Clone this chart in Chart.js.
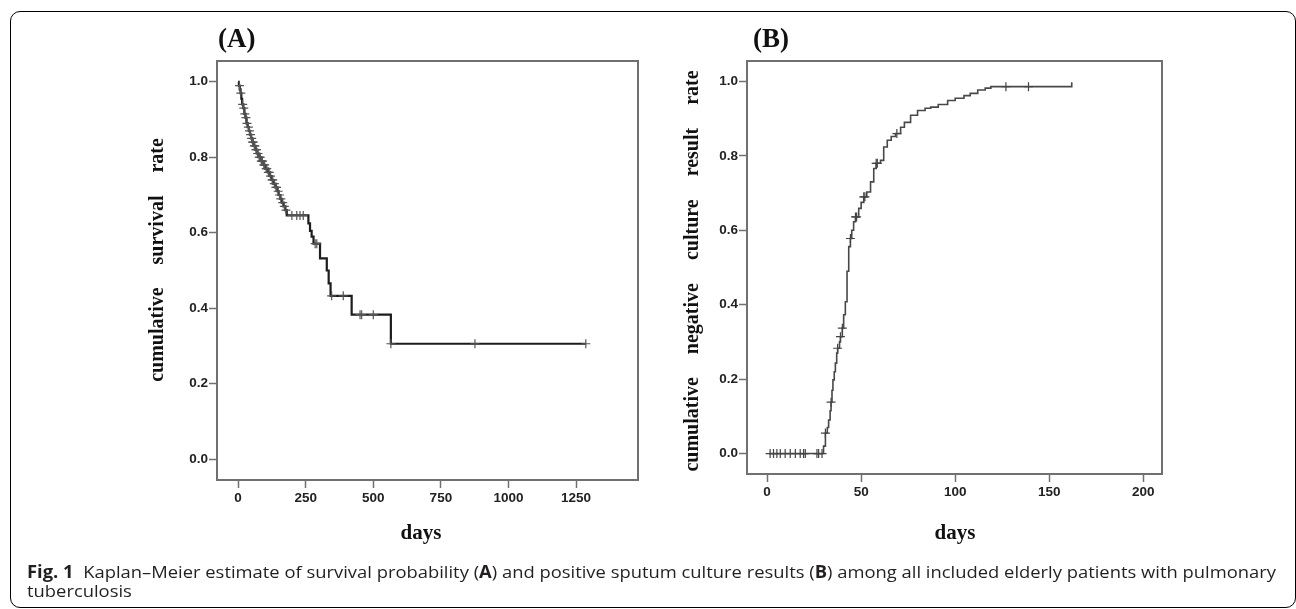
<!DOCTYPE html>
<html>
<head>
<meta charset="utf-8">
<script src="https://cdn.jsdelivr.net/npm/chart.js@4.4.1/dist/chart.umd.min.js"></script>
<style>
  html, body { margin: 0; padding: 0; background: #fff; }
  #wrap { position: relative; width: 1296px; height: 609px; overflow: hidden; }
  #wrap canvas { position: absolute; left: 0; top: 0; }
  #frame { position: absolute; left: 10px; top: 11px; width: 1286px; height: 597px;
           box-sizing: border-box; border: 1px solid #000; border-radius: 10px; }
  .cap { position: absolute; left: 27px; font-family: "Open Sans", sans-serif; font-size: 17px;
         line-height: 19px; color: #231f20; white-space: nowrap; transform-origin: 0 0; }
</style>
</head>
<body>
<div id="wrap">
  <div id="frame"></div>
  <canvas id="chartA" width="1296" height="609"></canvas>
  <canvas id="chartB" width="1296" height="609"></canvas>
  <div class="cap" id="cap1" style="top:562px"><b>Fig. 1</b>&nbsp; Kaplan–Meier estimate of survival probability (<b>A</b>) and positive sputum culture results (<b>B</b>) among all included elderly patients with pulmonary</div>
  <div class="cap" id="cap2" style="top:581px">tuberculosis</div>
</div>
<script>
// (A) survival: event days and survival after each event (last point = end of follow-up)
const survDays = [0, 3, 6, 9, 12, 15, 19, 23, 27, 31, 36, 40, 44, 48, 52, 58, 64, 70, 76, 84,
  92, 100, 110, 118, 124, 130, 138, 145, 150, 156, 162, 168, 174, 180, 260, 266, 272, 279,
  303, 328, 335, 342, 420, 565, 1286];
const survRates = [1, 0.99, 0.98, 0.97, 0.955, 0.94, 0.93, 0.915, 0.905, 0.89, 0.88, 0.87, 0.86,
  0.85, 0.84, 0.83, 0.82, 0.81, 0.8, 0.79, 0.78, 0.77, 0.76, 0.75, 0.74, 0.73, 0.72, 0.71, 0.7,
  0.69, 0.68, 0.67, 0.66, 0.646, 0.625, 0.605, 0.59, 0.571, 0.532, 0.5, 0.466, 0.433, 0.383,
  0.306, 0.306];
const survCensored = [5, 10, 17, 21, 25, 29, 33, 38, 42, 46, 50, 54, 56, 60, 62, 66, 68, 72, 74,
  78, 80, 82, 86, 88, 90, 95, 98, 104, 106, 112, 115, 120, 126, 128, 134, 140, 142, 148, 153,
  158, 165, 171, 177, 199, 217, 229, 241, 285, 291, 346, 389, 451, 457, 500, 565, 876, 1286];
const survXTicks = [0, 250, 500, 750, 1000, 1250];

// (B) negative culture conversion
const cultDays = [1, 30, 31, 32, 32.7, 33.5, 34, 34.5, 35, 35.7, 36.3, 37, 37.5, 38.5, 39, 40,
  40.7, 41.6, 42.5, 43.4, 44.3, 45, 46, 47, 48.7, 50, 51.4, 53, 55, 56.7, 58, 60.3, 62, 63.9,
  66, 68.3, 71, 73, 76.3, 80, 84, 87, 91, 96, 100, 104.7, 108, 112, 116, 119, 162];
const cultRates = [0, 0.02, 0.055, 0.07, 0.09, 0.115, 0.138, 0.17, 0.198, 0.22, 0.243, 0.27,
  0.283, 0.3, 0.314, 0.337, 0.373, 0.408, 0.49, 0.556, 0.578, 0.6, 0.623, 0.636, 0.659, 0.675,
  0.69, 0.703, 0.73, 0.766, 0.78, 0.788, 0.824, 0.842, 0.852, 0.86, 0.877, 0.89, 0.909, 0.922,
  0.928, 0.931, 0.938, 0.949, 0.955, 0.962, 0.968, 0.977, 0.982, 0.986, 0.998];
const cultCensored = [1.6, 3.4, 5.2, 7, 9.6, 12.3, 15, 17.6, 19.4, 20.3, 26.5, 27.4, 29.2, 31,
  34, 37.5, 39, 40, 44.3, 47, 47.6, 51.4, 52, 58, 58.6, 69, 127, 139];
const cultXTicks = [0, 50, 100, 150, 200];

const yTicks = [0, 0.2, 0.4, 0.6, 0.8, 1.0];

// is the narrow font there?
function hasFont(name) {
  const c = document.createElement('canvas').getContext('2d');
  c.font = 'bold 15px monospace';
  const w0 = c.measureText('1250 0.8').width;
  c.font = 'bold 15px "' + name + '", monospace';
  return c.measureText('1250 0.8').width !== w0;
}
const narrow = hasFont('Liberation Sans Narrow');
const tickFont = narrow
  ? { family: '"Liberation Sans Narrow"', size: 15, weight: 'bold' }
  : { family: '"Liberation Sans", Arial, sans-serif', size: 13.5, weight: 'bold' };

function stepValue(days, rates, t) {
  let v = rates[0];
  for (let i = 0; i < days.length; i++) if (days[i] <= t) v = rates[i];
  return v;
}

const panelText = {
  id: 'panelText',
  afterDraw(chart, args, o) {
    const ctx = chart.ctx;
    const a = chart.chartArea;
    ctx.save();
    ctx.strokeStyle = '#707070';
    ctx.lineWidth = 2;
    ctx.strokeRect(a.left, a.top, a.right - a.left, a.bottom - a.top);
    ctx.fillStyle = '#111';
    ctx.textBaseline = 'alphabetic';
    ctx.font = 'bold 27px "Liberation Serif", serif';
    ctx.textAlign = 'left';
    ctx.fillText(o.label, o.labelX, o.labelY);
    ctx.font = 'bold 21px "Liberation Serif", serif';
    ctx.textAlign = 'center';
    ctx.fillText(o.xTitle, o.xTitleX, o.xTitleY);
    ctx.font = 'bold 20px "Liberation Serif", serif';
    ctx.textAlign = 'left';
    const words = o.yTitle.split(' ');
    const widths = words.map(w => ctx.measureText(w).width);
    const total = widths.reduce((s, w) => s + w, 0) + o.wordGap * (words.length - 1);
    ctx.translate(o.yTitleX, o.yTitleY);
    ctx.rotate(-Math.PI / 2);
    let u = -total / 2;
    words.forEach((w, i) => { ctx.fillText(w, u, 0); u += widths[i] + o.wordGap; });
    ctx.restore();
  }
};

function makeChart(id, cfg) {
  const pts = cfg.days.map((d, i) => ({ x: d, y: cfg.rates[i] }));
  const cens = cfg.censored.map(d => ({ x: d, y: stepValue(cfg.days, cfg.rates, d) }));
  return new Chart(document.getElementById(id), {
    type: 'scatter',
    data: {
      datasets: [
        { data: cens, showLine: false, pointStyle: 'cross', pointRadius: 4.5,
          pointBorderWidth: 1.2, pointBorderColor: cfg.markColor },
        { data: pts, showLine: true, stepped: true, pointRadius: 0,
          borderColor: cfg.lineColor, borderWidth: cfg.lineWidth }
      ]
    },
    options: {
      responsive: false,
      animation: false,
      layout: { padding: cfg.padding },
      plugins: { legend: { display: false }, tooltip: { enabled: false }, panelText: cfg.text },
      scales: {
        x: {
          type: 'linear', min: cfg.xMin, max: cfg.xMax,
          afterBuildTicks: s => { s.ticks = cfg.xTicks.map(v => ({ value: v })); },
          afterFit: s => { s.height = 40; },
          grid: { drawOnChartArea: false, tickLength: 8, tickColor: '#707070', tickWidth: 1.5 },
          border: { display: false },
          ticks: { color: '#222', font: tickFont, padding: 2, maxRotation: 0, autoSkip: false,
                   callback: v => String(v) }
        },
        y: {
          min: -0.055, max: 1.055,
          afterBuildTicks: s => { s.ticks = yTicks.map(v => ({ value: v })); },
          afterFit: s => { s.width = 40; },
          grid: { drawOnChartArea: false, tickLength: 8, tickColor: '#707070', tickWidth: 1.5 },
          border: { display: false },
          ticks: { color: '#222', font: tickFont, padding: 1, callback: v => v.toFixed(1) }
        }
      }
    },
    plugins: [panelText]
  });
}

makeChart('chartA', {
  days: survDays, rates: survRates, censored: survCensored, xTicks: survXTicks,
  xMin: -78, xMax: 1479, lineColor: '#1c1c1c', lineWidth: 2.2, markColor: '#555',
  padding: { left: 177, right: 658, top: 61, bottom: 89 },
  text: { label: '(A)', labelX: 218, labelY: 47, xTitle: 'days', xTitleX: 421, xTitleY: 539,
          yTitle: 'cumulative survival rate', yTitleX: 163, yTitleY: 260, wordGap: 23 }
});

makeChart('chartB', {
  days: cultDays, rates: cultRates, censored: cultCensored, xTicks: cultXTicks,
  xMin: -10.7, xMax: 210, lineColor: '#484848', lineWidth: 1.6, markColor: '#444',
  padding: { left: 707, right: 134, top: 61, bottom: 95 },
  text: { label: '(B)', labelX: 753, labelY: 47, xTitle: 'days', xTitleX: 955, xTitleY: 539,
          yTitle: 'cumulative negative culture result rate', yTitleX: 698, yTitleY: 271, wordGap: 23 }
});

// squeeze the caption to the width of the original line
const cap1 = document.getElementById('cap1');
const cap2 = document.getElementById('cap2');
const k = 1249 / cap1.getBoundingClientRect().width;
cap1.style.transform = cap2.style.transform = 'scaleX(' + k + ')';
</script>
</body>
</html>
